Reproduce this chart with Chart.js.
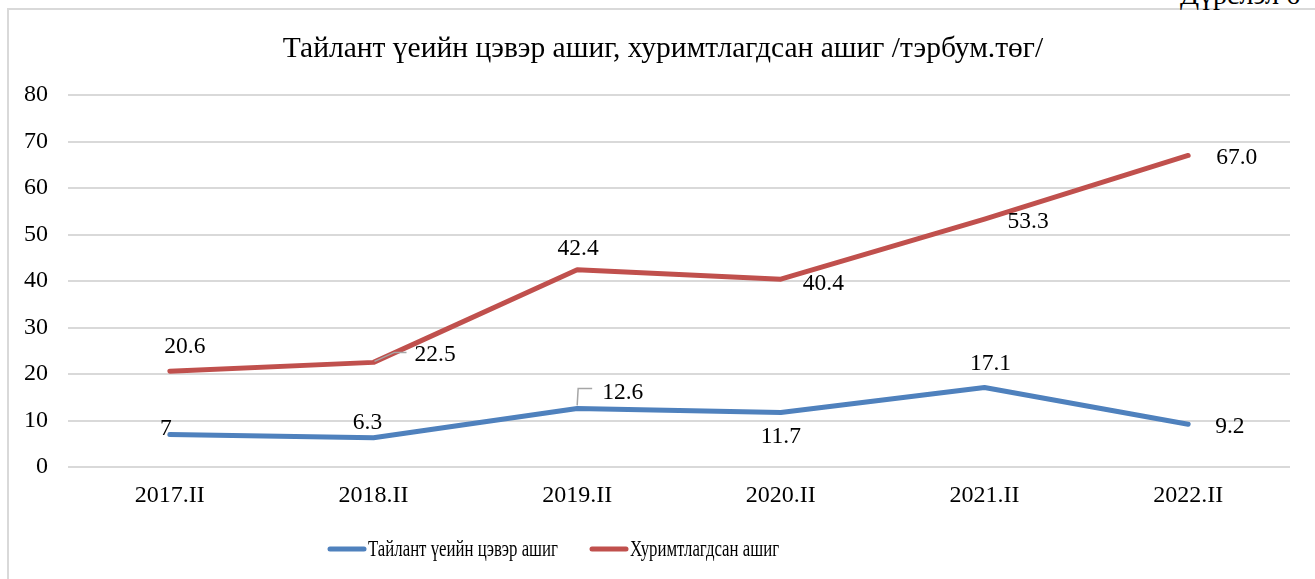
<!DOCTYPE html>
<html>
<head>
<meta charset="utf-8">
<script src="https://cdn.jsdelivr.net/npm/chart.js@4.4.1/dist/chart.umd.min.js"></script>
<style>
  html, body { margin: 0; padding: 0; background: #fff; overflow: hidden; }
  #wrap { position: relative; width: 1315px; height: 579px; }
  #frame { position: absolute; left: 7px; top: 8px; width: 1400px; height: 700px; border: 2px solid #d9d9d9; box-sizing: border-box; }
  #corner { position: absolute; left: 1180px; top: -21px; font: 28px "Liberation Serif", serif; color: #000; white-space: nowrap; }
  canvas { position: absolute; left: 0; top: 0; }
</style>
</head>
<body>
<div id="wrap">
  <div id="frame"></div>
  <div id="corner">Дүрслэл 6</div>
  <canvas id="lineChart" width="1315" height="579"></canvas>
</div>
<script>
const chartTitle = 'Тайлант үеийн цэвэр ашиг, хуримтлагдсан ашиг /тэрбум.төг/';
const periods = ['2017.II', '2018.II', '2019.II', '2020.II', '2021.II', '2022.II'];
const netProfit = [7, 6.3, 12.6, 11.7, 17.1, 9.2];
const retainedEarnings = [20.6, 22.5, 42.4, 40.4, 53.3, 67.0];
const netProfitText = ['7', '6.3', '12.6', '11.7', '17.1', '9.2'];
const retainedText = ['20.6', '22.5', '42.4', '40.4', '53.3', '67.0'];

const serif = '"Liberation Serif", "Times New Roman", serif';

// label placement per point: [dx, dy, align, leader]
const netProfitPos = [
    [2, -6, 'right'], [-6, -15, 'center'], [25, -16, 'left', 'up'],
    [0, 24, 'center'], [6, -24, 'center'], [27, 3, 'left']
];
const retainedPos = [
    [15, -24, 'center'], [41, -8, 'left', 'diag'], [1, -21, 'center'],
    [22, 5, 'left'], [23, 3, 'left'], [28, 2, 'left']
];

const labelPlugin = {
    id: 'labelPlugin',
    afterDatasetsDraw(chart) {
        const ctx = chart.ctx;
        ctx.save();
        // title
        ctx.fillStyle = '#000';
        ctx.font = '29.5px ' + serif;
        ctx.textAlign = 'center';
        ctx.textBaseline = 'middle';
        ctx.fillText(chartTitle, 663, 49);

        // data labels
        const sets = [[netProfitText, netProfitPos], [retainedText, retainedPos]];
        ctx.font = '23.5px ' + serif;
        sets.forEach(([texts, pos], di) => {
            const meta = chart.getDatasetMeta(di);
            meta.data.forEach((pt, i) => {
                const [dx, dy, align, leader] = pos[i];
                const x = pt.x + dx, y = pt.y + dy;
                if (leader) {
                    ctx.strokeStyle = '#a6a6a6';
                    ctx.lineWidth = 1.5;
                    ctx.beginPath();
                    if (leader === 'diag') {
                        ctx.moveTo(pt.x + 1, pt.y - 1);
                        ctx.lineTo(pt.x + 21, pt.y - 10);
                        ctx.lineTo(pt.x + 33, pt.y - 10);
                    } else {
                        ctx.moveTo(pt.x, pt.y - 3);
                        ctx.lineTo(pt.x + 1, pt.y - 20);
                        ctx.lineTo(pt.x + 15, pt.y - 20);
                    }
                    ctx.stroke();
                }
                ctx.fillStyle = '#000';
                ctx.textAlign = align;
                ctx.textBaseline = 'middle';
                ctx.fillText(texts[i], x, y);
            });
        });

        // legend
        const legendItems = [
            {text: 'Тайлант үеийн цэвэр ашиг', color: chart.data.datasets[0].borderColor, x: 327},
            {text: 'Хуримтлагдсан ашиг', color: chart.data.datasets[1].borderColor, x: 589}
        ];
        legendItems.forEach(item => {
            ctx.strokeStyle = item.color;
            ctx.lineWidth = 5;
            ctx.lineCap = 'round';
            ctx.beginPath();
            ctx.moveTo(item.x + 3, 549);
            ctx.lineTo(item.x + 37, 549);
            ctx.stroke();
            ctx.save();
            ctx.translate(item.x + 41, 550);
            ctx.scale(0.7, 1);
            ctx.font = '24px ' + serif;
            ctx.fillStyle = '#000';
            ctx.textAlign = 'left';
            ctx.textBaseline = 'middle';
            ctx.fillText(item.text, 0, 0);
            ctx.restore();
        });
        ctx.restore();
    }
};

new Chart(document.getElementById('lineChart').getContext('2d'), {
    type: 'line',
    data: {
        labels: periods,
        datasets: [{
            label: 'Тайлант үеийн цэвэр ашиг',
            data: netProfit,
            borderColor: '#4f81bd',
            backgroundColor: '#4f81bd',
            borderWidth: 5,
            pointRadius: 0,
            borderCapStyle: 'round',
            borderJoinStyle: 'round',
            tension: 0
        }, {
            label: 'Хуримтлагдсан ашиг',
            data: retainedEarnings,
            borderColor: '#c0504d',
            backgroundColor: '#c0504d',
            borderWidth: 5,
            pointRadius: 0,
            borderCapStyle: 'round',
            borderJoinStyle: 'round',
            tension: 0
        }]
    },
    options: {
        responsive: false,
        animation: false,
        layout: { padding: { top: 95, right: 25, left: 0, bottom: 0 } },
        plugins: {
            legend: { display: false },
            title: { display: false },
            tooltip: { enabled: false }
        },
        scales: {
            x: {
                offset: true,
                grid: { display: false, drawTicks: false },
                border: { display: false },
                ticks: { color: '#000', font: { family: serif, size: 24 }, padding: 14, maxRotation: 0 },
                afterFit: scale => { scale.height = 112; }
            },
            y: {
                min: 0,
                max: 80,
                grid: { color: '#d9d9d9', lineWidth: 2, drawTicks: false },
                border: { display: false },
                ticks: { stepSize: 10, color: '#000', font: { family: serif, size: 24 }, padding: 20 },
                afterFit: scale => { scale.width = 68; }
            }
        }
    },
    plugins: [labelPlugin]
});
</script>
</body>
</html>
